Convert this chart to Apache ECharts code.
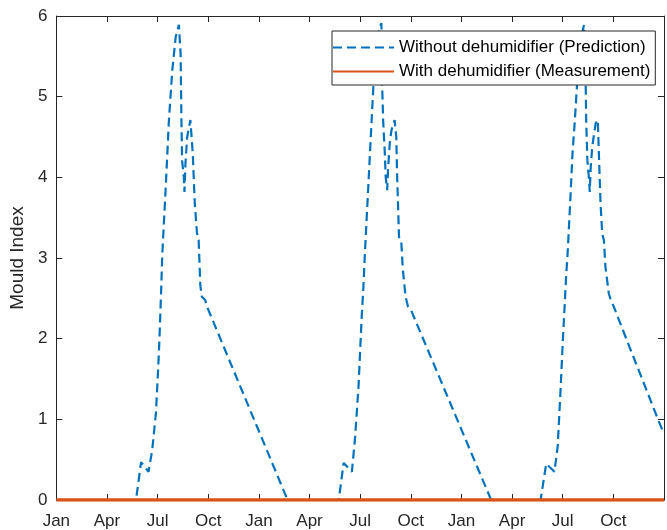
<!DOCTYPE html>
<html>
<head>
<meta charset="utf-8">
<script src="https://cdn.jsdelivr.net/npm/echarts@6/dist/echarts.min.js"></script>
<style>
  html, body { margin: 0; padding: 0; background: #fff; }
  #chart { width: 667px; height: 530px; }
</style>
</head>
<body>
<div id="chart"></div>
<script>
// X positions are in months from January of the first year
const tickLabels = ['Jan', 'Apr', 'Jul', 'Oct', 'Jan', 'Apr', 'Jul', 'Oct', 'Jan', 'Apr', 'Jul', 'Oct'];
const yTicks = [0, 1, 2, 3, 4, 5, 6];

const seriesNames = ['Without dehumidifier (Prediction)', 'With dehumidifier (Measurement)'];

// Without dehumidifier (Prediction) - year 1
const year1Months = [0, 4.72, 5.02, 5.46, 5.68, 5.90, 6.00, 6.09, 6.19, 6.28, 6.48, 6.67, 6.87, 7.07, 7.26,
  7.36, 7.41, 7.45, 7.55, 7.59, 7.65, 7.75, 7.94, 8.08, 8.20, 8.33, 8.43, 8.53, 8.62, 8.82, 8.92, 13.70];
const year1Values = [0, 0, 0.47, 0.35, 0.62, 1.08, 1.49, 1.90, 2.48, 3.06, 3.88, 4.71, 5.33, 5.74, 5.89,
  5.54, 4.71, 4.21, 4.01, 3.82, 4.18, 4.50, 4.71, 4.30, 3.68, 3.31, 3.22, 2.66, 2.52, 2.48, 2.40, 0];

// year 2
const year2Months = [16.73, 17.02, 17.51, 17.70, 17.90, 18.09, 18.19, 18.28, 18.38, 18.48, 18.58, 18.68, 18.78,
  18.97, 19.16, 19.26, 19.30, 19.36, 19.46, 19.51, 19.60, 19.65, 19.75, 19.85, 20.04, 20.14, 20.18, 20.24,
  20.30, 20.43, 20.53, 20.69, 20.83, 21.02, 25.76];
const year2Values = [0, 0.46, 0.35, 0.78, 1.40, 2.27, 2.64, 3.06, 3.47, 3.88, 4.30, 4.71, 5.12,
  5.60, 5.87, 5.91, 5.16, 4.71, 4.30, 4.01, 3.84, 4.09, 4.42, 4.58, 4.71, 4.50, 4.09, 3.68,
  3.26, 3.22, 2.85, 2.52, 2.40, 2.35, 0];

// year 3
const year3Months = [28.69, 29.02, 29.51, 29.70, 29.80, 29.90, 29.99, 30.09, 30.19, 30.29, 30.44, 30.58, 30.72,
  30.84, 31.06, 31.26, 31.36, 31.39, 31.46, 31.56, 31.60, 31.66, 31.75, 31.95, 32.08, 32.14, 32.24, 32.34,
  32.44, 32.53, 32.73, 32.85, 33.02, 33.80, 34.97, 35.66, 36];
const year3Values = [0, 0.45, 0.35, 0.66, 1.07, 1.49, 1.90, 2.31, 2.73, 3.06, 3.68, 4.30, 4.71,
  5.12, 5.70, 5.89, 5.16, 4.71, 4.21, 3.97, 3.82, 4.13, 4.38, 4.67, 4.71, 4.30, 3.68, 3.30,
  3.22, 2.89, 2.56, 2.48, 2.40, 1.98, 1.36, 0.99, 0.82];

// With dehumidifier (Measurement)
const measuredMonths = [0, 36];
const measuredValues = [0, 0];

function zip(xs, ys) { return xs.map((x, i) => [x, ys[i]]); }
const predictionData = zip(year1Months, year1Values)
  .concat(zip(year2Months, year2Values))
  .concat(zip(year3Months, year3Values));
const measurementData = zip(measuredMonths, measuredValues);

const FONT = '"Liberation Sans", Arial, Helvetica, sans-serif';
const AX = '#262626';

const chart = echarts.init(document.getElementById('chart'), null, { renderer: 'canvas' });

const xCommon = {
  type: 'value', min: 0, max: 36, interval: 3,
  axisLine: { show: true, onZero: false, lineStyle: { color: AX, width: 1 } },
  axisTick: { show: true, inside: true, length: 6, lineStyle: { color: AX, width: 1 } },
  splitLine: { show: false }
};
const yCommon = {
  type: 'value', min: yTicks[0], max: yTicks[yTicks.length - 1], interval: 1,
  axisLine: { show: true, onZero: false, lineStyle: { color: AX, width: 1 } },
  axisTick: { show: true, inside: true, length: 6, lineStyle: { color: AX, width: 1 } },
  splitLine: { show: false }
};

chart.setOption({
  backgroundColor: '#ffffff',
  animation: false,
  textStyle: { fontFamily: FONT },
  grid: { left: 56, right: -3, top: 16, bottom: 30, containLabel: false },
  legend: {
    orient: 'vertical',
    left: 332, top: 31,
    padding: [8, 5, 5, 0],
    itemGap: 7,
    itemWidth: 61, itemHeight: 14,
    backgroundColor: '#ffffff',
    borderColor: AX, borderWidth: 1,
    itemStyle: { color: 'rgba(0,0,0,0)', opacity: 0, borderWidth: 0 },
    textStyle: { color: '#000', fontSize: 17, fontFamily: FONT },
    data: seriesNames
  },
  xAxis: [
    Object.assign({}, xCommon, {
      position: 'bottom',
      axisLabel: {
        show: true, color: AX, fontSize: 17, fontFamily: FONT, margin: 13,
        formatter: v => { const i = Math.round(v / 3); return tickLabels[i] !== undefined ? tickLabels[i] : ''; }
      }
    }),
    Object.assign({}, xCommon, { position: 'top', axisLabel: { show: false } })
  ],
  yAxis: [
    Object.assign({}, yCommon, {
      position: 'left',
      name: 'Mould Index', nameLocation: 'middle', nameGap: 24,
      nameTextStyle: { color: AX, fontSize: 19, fontFamily: FONT },
      axisLabel: { show: true, color: AX, fontSize: 17, fontFamily: FONT, margin: 9 }
    }),
    Object.assign({}, yCommon, { position: 'right', axisLabel: { show: false } })
  ],
  series: [
    {
      name: seriesNames[0], type: 'line', xAxisIndex: 0, yAxisIndex: 0,
      data: predictionData, symbol: 'none', showSymbol: false,
      lineStyle: { color: '#0072BD', width: 2.2, type: [9, 5] },
      itemStyle: { color: '#0072BD' }
    },
    {
      name: seriesNames[1], type: 'line', xAxisIndex: 0, yAxisIndex: 0,
      data: measurementData, symbol: 'none', showSymbol: false,
      lineStyle: { color: '#D95319', width: 3.5 },
      itemStyle: { color: '#D95319' }
    }
  ]
});
</script>
</body>
</html>
